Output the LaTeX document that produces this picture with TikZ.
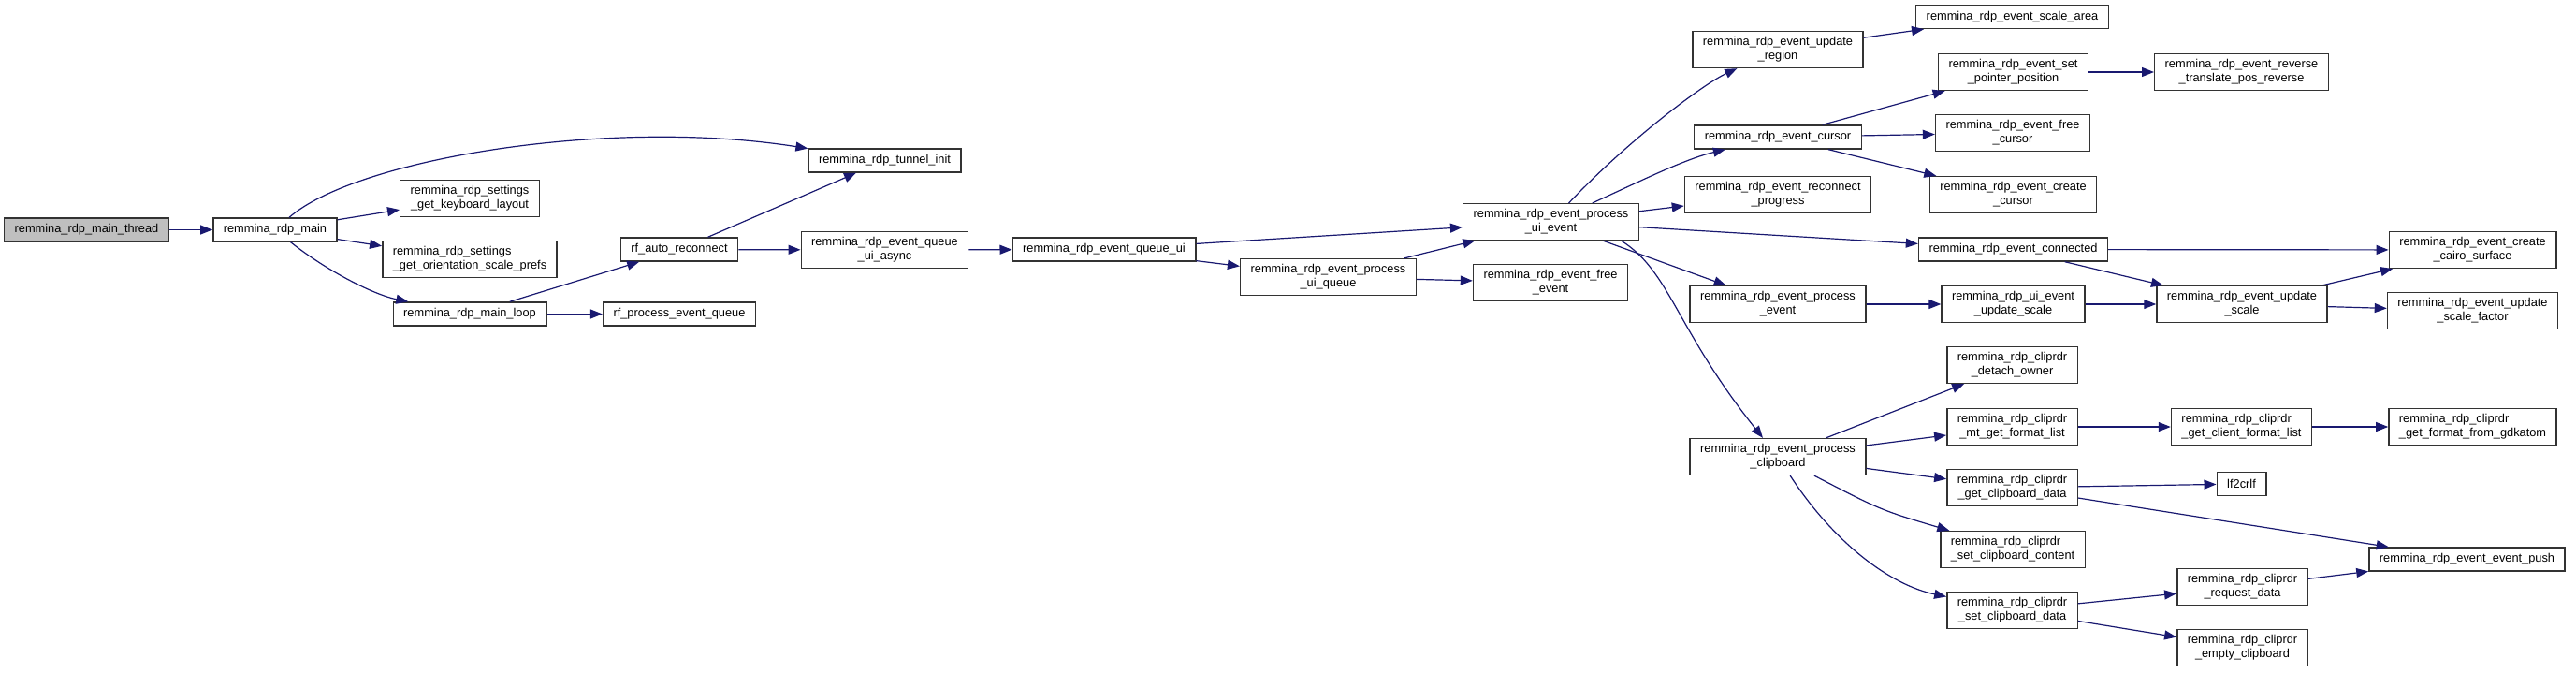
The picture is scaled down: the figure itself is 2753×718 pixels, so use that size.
\documentclass[tikz,border=0pt]{standalone}
\usepackage{fontspec}
\setmainfont{Liberation Sans}
\usetikzlibrary{arrows.meta}
\definecolor{edgeblue}{HTML}{191970}
\definecolor{boxgray}{HTML}{BFBFBF}

\begin{document}
\begin{tikzpicture}[x=1pt, y=-1pt, >={Triangle[length=13pt,width=10pt]},
  fn/.style={rectangle, draw=black!80, line width=1.4pt, fill=white, align=center,
    font=\fontsize{12.8}{15}\selectfont, inner xsep=11pt, inner ysep=6pt, minimum height=25pt},
  fnl/.style={fn, align=left},
  call/.style={->, draw=edgeblue, line width=1.2pt}]
\useasboundingbox (0,0) rectangle (2753,718);
% Start
\node (mthread) [fn, fill=boxgray] at (92.5,245.5) {remmina\_rdp\_main\_thread};
\node (rmain) [fn] at (294,245.5) {remmina\_rdp\_main};

\node (kbd) [fn] at (502,212) {remmina\_rdp\_settings\\\_get\_keyboard\_layout};
\node (orient) [fnl] at (502,277) {remmina\_rdp\_settings\\\_get\_orientation\_scale\_prefs};
\node (mloop) [fn] at (502,335.5) {remmina\_rdp\_main\_loop};
\node (reconn) [fn] at (726,266.5) {rf\_auto\_reconnect};
\node (rfqueue) [fn] at (726,335.5) {rf\_process\_event\_queue};
\node (tunnel) [fn] at (945.5,171.5) {remmina\_rdp\_tunnel\_init};
\node (qasync) [fn] at (945.5,267) {remmina\_rdp\_event\_queue\\\_ui\_async};
\node (queueui) [fn] at (1180,266.5) {remmina\_rdp\_event\_queue\_ui};
\node (puiqueue) [fn] at (1419.5,296) {remmina\_rdp\_event\_process\\\_ui\_queue};
\node (puievent) [fn] at (1657.5,237) {remmina\_rdp\_event\_process\\\_ui\_event};
\node (freeevent) [fn] at (1657,302) {remmina\_rdp\_event\_free\\\_event};

% Event handlers
\node (updregion) [fn] at (1900,53) {remmina\_rdp\_event\_update\\\_region};
\node (cursor) [fn] at (1900,146.5) {remmina\_rdp\_event\_cursor};
\node (reconprog) [fn] at (1900,208) {remmina\_rdp\_event\_reconnect\\\_progress};
\node (procevent) [fn] at (1900,325) {remmina\_rdp\_event\_process\\\_event};
\node (procclip) [fn] at (1900,488) {remmina\_rdp\_event\_process\\\_clipboard};

\node (scalearea) [fn] at (2150.5,18) {remmina\_rdp\_event\_scale\_area};
\node (setptr) [fn] at (2151.5,77) {remmina\_rdp\_event\_set\\\_pointer\_position};
\node (freecursor) [fn] at (2151,142) {remmina\_rdp\_event\_free\\\_cursor};
\node (createcursor) [fn] at (2151.5,208) {remmina\_rdp\_event\_create\\\_cursor};
\node (connected) [fn] at (2151.5,266.5) {remmina\_rdp\_event\_connected};
\node (uiupdscale) [fn] at (2151.5,325) {remmina\_rdp\_ui\_event\\\_update\_scale};
\node (detach) [fn] at (2150.5,390) {remmina\_rdp\_cliprdr\\\_detach\_owner};
\node (mtformat) [fn] at (2150.5,456) {remmina\_rdp\_cliprdr\\\_mt\_get\_format\_list};
\node (getclip) [fn] at (2150.5,521) {remmina\_rdp\_cliprdr\\\_get\_clipboard\_data};
\node (setcontent) [fnl] at (2151,587) {remmina\_rdp\_cliprdr\\\_set\_clipboard\_content};
\node (setclip) [fn] at (2150.5,652) {remmina\_rdp\_cliprdr\\\_set\_clipboard\_data};

\node (revtrans) [fn] at (2395.5,77) {remmina\_rdp\_event\_reverse\\\_translate\_pos\_reverse};
\node (updscale) [fn] at (2396,325) {remmina\_rdp\_event\_update\\\_scale};
\node (clientfmt) [fnl] at (2395.5,456) {remmina\_rdp\_cliprdr\\\_get\_client\_format\_list};
\node (lf2crlf) [fn] at (2395.5,517) {lf2crlf};
\node (reqdata) [fn] at (2396.5,627) {remmina\_rdp\_cliprdr\\\_request\_data};
\node (emptyclip) [fn] at (2396.5,692) {remmina\_rdp\_cliprdr\\\_empty\_clipboard};

\node (cairo) [fn] at (2642.5,267) {remmina\_rdp\_event\_create\\\_cairo\_surface};
\node (scalefactor) [fn] at (2642.5,332) {remmina\_rdp\_event\_update\\\_scale\_factor};
\node (gdkatom) [fnl] at (2642.5,456) {remmina\_rdp\_cliprdr\\\_get\_format\_from\_gdkatom};
\node (eventpush) [fn] at (2636.5,597.5) {remmina\_rdp\_event\_event\_push};

\draw [call] (mthread) -- (rmain);
\draw [call] (rmain) .. controls (380,170) and (650,125) .. (tunnel);
\draw [call] (rmain) -- (kbd);
\draw [call] (rmain) -- (orient);
\draw [call] (rmain) .. controls (350,290) and (400,315) .. (mloop);
\draw [call] (mloop) -- (reconn);
\draw [call] (mloop) -- (rfqueue);
\draw [call] (reconn) -- (tunnel);
\draw [call] (reconn) -- (qasync);
\draw [call] (qasync) -- (queueui);
\draw [call] (queueui) -- (puievent);
\draw [call] (queueui) -- (puiqueue);
\draw [call] (puiqueue) -- (puievent);
\draw [call] (puiqueue) -- (freeevent);

\draw [call] (puievent) .. controls (1740,150) and (1820,90) .. (updregion);
\draw [call] (puievent) .. controls (1750,195) and (1800,170) .. (cursor);
\draw [call] (puievent) -- (reconprog);
\draw [call] (puievent) -- (connected);
\draw [call] (puievent) -- (procevent);
\draw [call] ([xshift=75pt]puievent.south) .. controls (1785,290) and (1790,350) .. (procclip);

\draw [call] (updregion) -- (scalearea);
\draw [call] (cursor) -- (setptr);
\draw [call] (cursor) -- (freecursor);
\draw [call] (cursor) -- (createcursor);
\draw [call] (setptr) -- (revtrans);
\draw [call] (connected) -- (cairo);
\draw [call] (connected) -- (updscale);
\draw [call] (procevent) -- (uiupdscale);
\draw [call] (uiupdscale) -- (updscale);
\draw [call] (updscale) -- (cairo);
\draw [call] (updscale) -- (scalefactor);

\draw [call] (procclip) -- (detach);
\draw [call] (procclip) -- (mtformat);
\draw [call] (procclip) -- (getclip);
\draw [call] (procclip) .. controls (2010,545) .. (setcontent);
\draw [call] (procclip) .. controls (1960,580) and (2020,625) .. (setclip);
\draw [call] (mtformat) -- (clientfmt);
\draw [call] (clientfmt) -- (gdkatom);
\draw [call] (getclip) -- (lf2crlf);
\draw [call] (getclip) -- (eventpush);
\draw [call] (setclip) -- (reqdata);
\draw [call] (setclip) -- (emptyclip);
\draw [call] (reqdata) -- (eventpush);
\end{tikzpicture}
\end{document}
